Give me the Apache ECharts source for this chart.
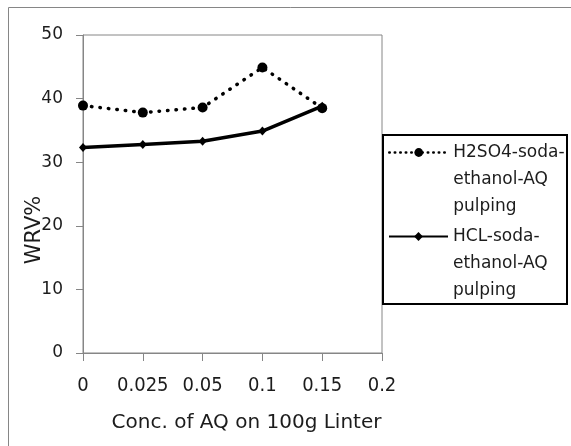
<!DOCTYPE html>
<html>
<head>
<meta charset="utf-8">
<script src="https://cdn.jsdelivr.net/npm/echarts@6/dist/echarts.min.js"></script>
<style>
    html, body { margin: 0; padding: 0; background: #fff; }
    #chart { width: 571px; height: 446px; }
</style>
</head>
<body>
<div id="chart"></div>
<script>
// concentration of AQ (category ticks)
const concLabels = ['0', '0.025', '0.05', '0.1', '0.15', '0.2'];
const yTicks = [0, 10, 20, 30, 40, 50];

const seriesNames = ['H2SO4-soda-ethanol-AQ pulping', 'HCL-soda-ethanol-AQ pulping'];
const h2so4Wrv = [38.9, 37.8, 38.6, 44.9, 38.5];
const hclWrv = [32.3, 32.8, 33.3, 34.9, 38.8];

// two blank lines on top keep the icon level with the first text line
const legendText = {
    'H2SO4-soda-ethanol-AQ pulping': '\n\nH2SO4-soda-\nethanol-AQ\npulping',
    'HCL-soda-ethanol-AQ pulping': '\n\nHCL-soda-\nethanol-AQ\npulping'
};

const gray = '#868686';
const ink = '#1c1c1c';

const legendBase = {
    orient: 'vertical',
    left: 388,
    padding: 0,
    itemWidth: 59,
    itemHeight: 11,
    borderWidth: 0,
    formatter: (name) => legendText[name],
    textStyle: {
        fontFamily: 'DejaVu Sans',
        fontSize: 17,
        lineHeight: 27,
        color: ink
    }
};

const chart = echarts.init(document.getElementById('chart'), null, { renderer: 'canvas' });

const option = {
    animation: false,
    backgroundColor: '#fff',
    graphic: [
        {
            // outer chart frame (runs off the right / bottom edge)
            type: 'rect',
            shape: { x: 8.5, y: 7.5, width: 700, height: 600 },
            style: { fill: 'none', stroke: gray, lineWidth: 1 },
            silent: true,
            z: -1
        },
        {
            // legend frame
            type: 'rect',
            shape: { x: 383, y: 135, width: 184, height: 169 },
            style: { fill: '#fff', stroke: '#000', lineWidth: 2 },
            silent: true,
            z: 0
        }
    ],
    grid: {
        left: 83,
        top: 35,
        right: 189,
        bottom: 93,
        show: true,
        borderColor: gray,
        borderWidth: 1,
        backgroundColor: 'transparent'
    },
    legend: [
        Object.assign({}, legendBase, {
            top: 85,
            data: [seriesNames[0]],
            lineStyle: { width: 2.5, type: [0.5, 5], cap: 'round' }
        }),
        Object.assign({}, legendBase, { top: 169, data: [seriesNames[1]] })
    ],
    xAxis: {
        type: 'category',
        data: concLabels,
        boundaryGap: false,
        name: 'Conc. of AQ on 100g Linter',
        nameLocation: 'middle',
        nameGap: 60,
        nameTextStyle: {
            fontFamily: 'DejaVu Sans',
            fontSize: 20,
            color: ink,
            padding: [0, 0, 0, 28]
        },
        axisLine: { lineStyle: { color: gray, width: 1 } },
        axisTick: { show: true, length: 8, alignWithLabel: true, lineStyle: { color: gray } },
        axisLabel: {
            margin: 23,
            fontFamily: "'DejaVu Sans Condensed', sans-serif",
            fontSize: 20,
            color: ink,
            interval: 0
        },
        splitLine: { show: false }
    },
    yAxis: {
        type: 'value',
        min: yTicks[0],
        max: yTicks[yTicks.length - 1],
        interval: 10,
        name: 'WRV%',
        nameLocation: 'middle',
        nameGap: 38,
        nameMoveOverlap: false,
        nameTextStyle: {
            fontFamily: 'DejaVu Sans',
            fontSize: 21,
            color: ink,
            padding: [0, 72, 0, 0]
        },
        axisLine: { show: true, lineStyle: { color: gray, width: 1 } },
        axisTick: { show: true, length: 7, lineStyle: { color: gray } },
        axisLabel: {
            margin: 20,
            fontFamily: 'DejaVu Sans',
            fontSize: 17,
            color: ink
        },
        splitLine: { show: false }
    },
    series: [
        {
            name: seriesNames[0],
            type: 'line',
            data: h2so4Wrv,
            symbol: 'circle',
            symbolSize: 10,
            itemStyle: { color: '#000' },
            lineStyle: { color: '#000', width: 3.5, type: [0.5, 8], cap: 'round' },
            z: 3
        },
        {
            name: seriesNames[1],
            type: 'line',
            data: hclWrv,
            symbol: 'diamond',
            symbolSize: [8, 9],
            itemStyle: { color: '#000' },
            lineStyle: { color: '#000', width: 3.5, type: 'solid' },
            z: 2
        }
    ]
};

chart.setOption(option);
</script>
</body>
</html>
